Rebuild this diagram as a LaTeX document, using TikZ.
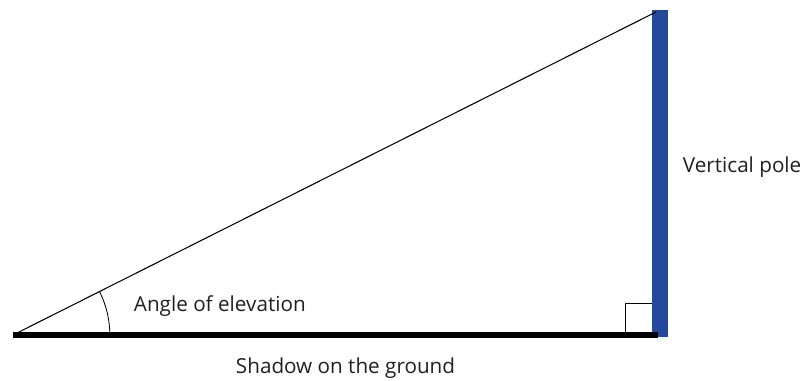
\documentclass[tikz,border=0pt]{standalone}
\usepackage{fontspec}
\setmainfont{Open Sans}
\usepackage{xcolor}
\usepackage{tikz}
\usetikzlibrary{angles}

\definecolor{poleblue}{RGB}{36,72,156}
\definecolor{inkgray}{RGB}{35,31,32}

\begin{document}
\begin{tikzpicture}[x=0.025cm,y=-0.025cm,
        label text/.style={text=inkgray,font=\fontsize{14.7}{16}\selectfont,anchor=west}]
        \useasboundingbox (0,0) rectangle (804,381);
        \coordinate (a) at (13,335);
        \coordinate (b) at (658,335);
        \coordinate (c) at (656,12);

        % Palo
        \fill[poleblue] (652,10) rectangle (668,337);

        % Ipotenusa e suolo
        \draw[line width=0.75pt] (a) -- (c);
        \draw[line width=3.6pt] (a) -- (b);

        % Angolo retto
        \draw[line width=0.6pt] (625,333) |- (652,303);

        \draw pic[draw,line width=0.6pt,angle radius=2.42cm] {angle=b--a--c};

        % Etichette
        \node[label text] (elev) at (129,306) {Angle of elevation};
        \node[label text] (pole) at (678,167) {Vertical pole};
        \node[label text] (shadow) at (231,368) {Shadow on the ground};
    \end{tikzpicture}
\end{document}
